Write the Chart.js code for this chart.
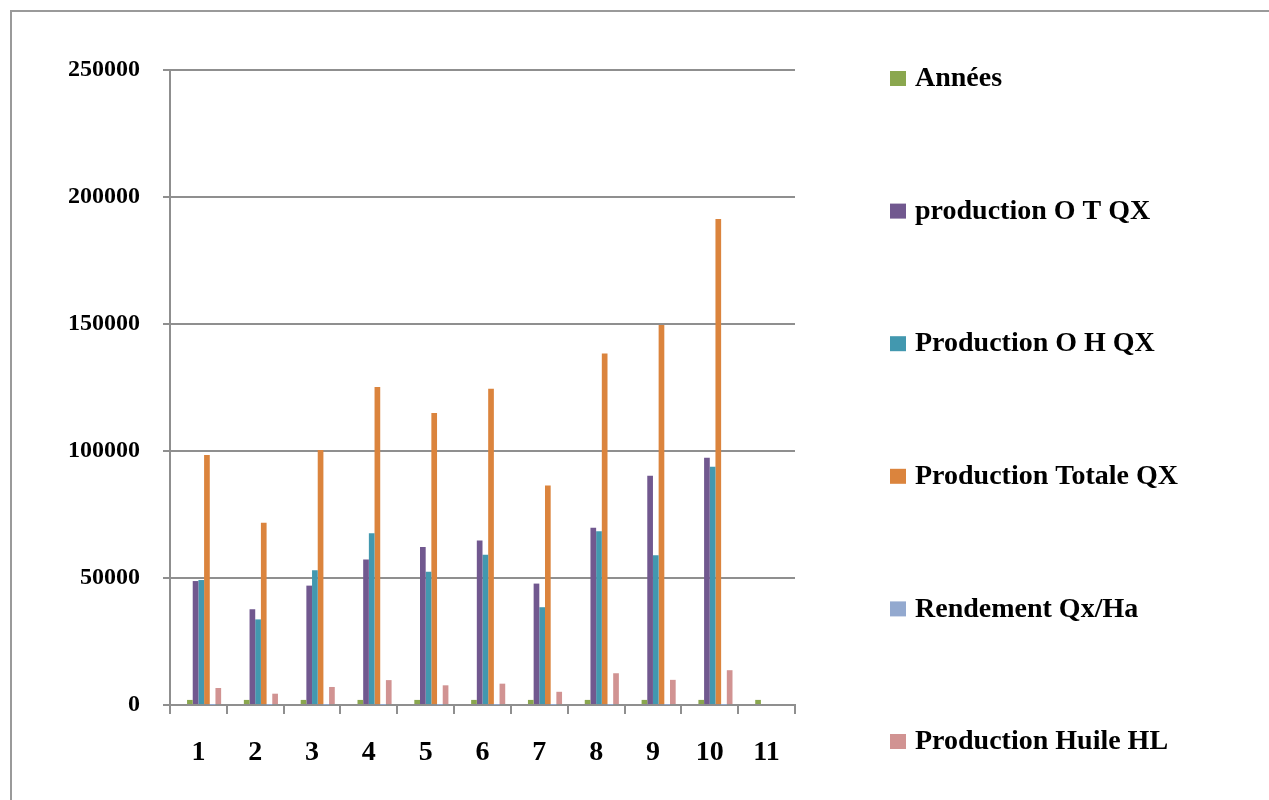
<!DOCTYPE html>
<html>
<head>
<meta charset="UTF-8">
<title>Production</title>
<script src="https://cdn.jsdelivr.net/npm/chart.js@4.4.1/dist/chart.umd.min.js"></script>
<style>
 body{margin:0;background:#fff;overflow:hidden;}
 .frame{position:absolute;left:10px;top:10px;width:1400px;height:900px;border-left:2px solid #9a9a9a;border-top:2px solid #9a9a9a;}
 #wrap{position:absolute;left:0;top:0;width:1269px;height:800px;}
</style>
</head>
<body>
<div class="frame"></div>
<div id="wrap"><canvas id="canvas"></canvas></div>
<script>
// categories (x axis)
var categories = ['1', '2', '3', '4', '5', '6', '7', '8', '9', '10', '11'];

// series
var annees      = [2000, 2001, 2002, 2003, 2004, 2005, 2006, 2007, 2008, 2009, 2010];
var prodOT      = [48800, 37700, 47000, 57300, 62200, 64800, 47800, 69800, 90300, 97300, null];
var prodOH      = [49200, 33700, 53100, 67600, 52500, 59200, 38500, 68400, 59000, 93800, null];
var prodTotale  = [98400, 71800, 100400, 125200, 115000, 124500, 86400, 138400, 149600, 191300, null];
var rendement   = [16, 12, 16, 20, 18, 19, 14, 22, 24, 30, null];
var prodHuile   = [6700, 4450, 7100, 9800, 7750, 8400, 5200, 12500, 9900, 13700, null];

var yTicks = [0, 50000, 100000, 150000, 200000, 250000];

var seriesNames = ['Années', 'production O T QX', 'Production O H QX', 'Production Totale QX', 'Rendement Qx/Ha', 'Production Huile HL'];
var seriesColors = ['#8aa74e', '#71588f', '#4298af', '#db843d', '#93a9cf', '#d19392'];
var seriesData = [annees, prodOT, prodOH, prodTotale, rendement, prodHuile];

var serif = "'Liberation Serif', 'Times New Roman', serif";
var gridGray = '#8f8f8f';

// legend drawn on the right, one item per named dataset, widely spaced
var sideLegend = {
  id: 'sideLegend',
  afterDraw: function(chart){
    var ctx = chart.ctx;
    var top = 78, step = 132.6;
    ctx.save();
    ctx.font = 'bold 28px ' + serif;
    ctx.textBaseline = 'middle';
    var n = 0;
    chart.data.datasets.forEach(function(ds){
      if (!ds.label) return;
      var y = top + n * step;
      ctx.fillStyle = ds.backgroundColor;
      ctx.fillRect(890, y - 7, 16, 15);
      ctx.fillStyle = '#000';
      ctx.fillText(ds.label, 915, y + 1);
      n++;
    });
    ctx.restore();
  }
};

// the source sheet had two empty series ahead of the named ones (they keep the bars shifted right)
var datasets = [
  { label: '', data: [], categoryPercentage: 0.8, barPercentage: 1.0 },
  { label: '', data: [], categoryPercentage: 0.8, barPercentage: 1.0 }
];
for (var i = 0; i < seriesNames.length; i++){
  datasets.push({
    label: seriesNames[i],
    data: seriesData[i],
    backgroundColor: seriesColors[i],
    borderWidth: 0,
    barPercentage: 1.0,
    categoryPercentage: 0.8
  });
}

var ctx = document.getElementById('canvas').getContext('2d');
window.myBar = new Chart(ctx, {
  type: 'bar',
  data: { labels: categories, datasets: datasets },
  plugins: [sideLegend],
  options: {
    responsive: true,
    maintainAspectRatio: false,
    animation: false,
    layout: { padding: { top: 70, right: 474, bottom: 0, left: 0 } },
    plugins: {
      legend: { display: false },
      tooltip: { enabled: false }
    },
    scales: {
      x: {
        afterFit: function(s){ s.height = 95; },
        grid: { display: true, offset: true, drawOnChartArea: false, tickLength: 9, color: gridGray, lineWidth: 2 },
        border: { display: true, color: gridGray, width: 2 },
        ticks: { color: '#000', padding: 22, font: { family: serif, size: 28, weight: 'bold' } }
      },
      y: {
        min: 0,
        max: 250000,
        afterFit: function(s){ s.width = 170; },
        afterBuildTicks: function(s){ s.ticks = yTicks.map(function(v){ return { value: v }; }); },
        grid: { color: gridGray, lineWidth: 2, tickLength: 7 },
        border: { display: true, color: gridGray, width: 2 },
        ticks: {
          color: '#000',
          padding: 23,
          font: { family: serif, size: 24, weight: 'bold' },
          callback: function(v){ return String(v); }
        }
      }
    }
  }
});
</script>
</body>
</html>
